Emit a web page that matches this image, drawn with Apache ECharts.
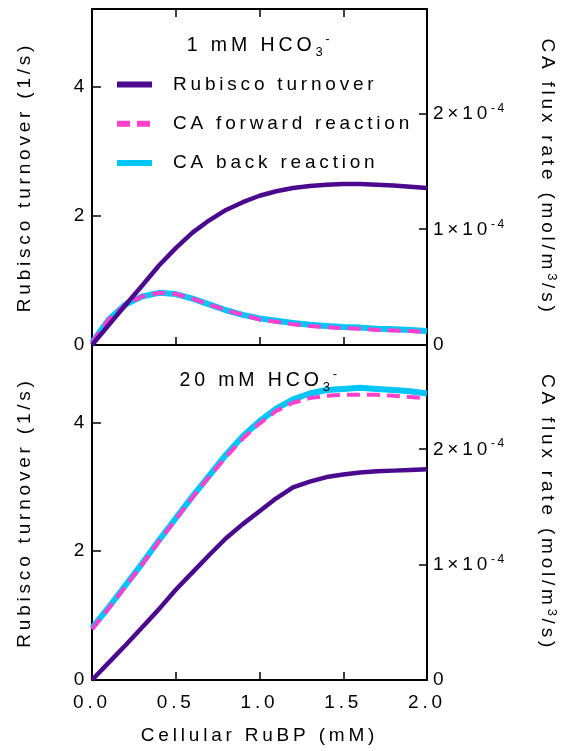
<!DOCTYPE html>
<html>
<head>
<meta charset="utf-8">
<script src="https://cdn.jsdelivr.net/npm/echarts@6/dist/echarts.min.js"></script>
<style>
  html, body { margin: 0; padding: 0; background: #fff; }
  #chart { width: 570px; height: 751px; }
</style>
</head>
<body>
<div id="chart"></div>
<script>
// Cellular RuBP concentration (mM), shared by both panels
const rubp = [0.0, 0.1, 0.2, 0.3, 0.4, 0.5, 0.6, 0.7, 0.8, 0.9, 1.0,
              1.1, 1.2, 1.3, 1.4, 1.5, 1.6, 1.7, 1.8, 1.9, 2.0];

// 1 mM HCO3- : Rubisco turnover (1/s)
const rubiscoLow = [0.00, 0.31, 0.62, 0.92, 1.23, 1.50, 1.74, 1.93, 2.09, 2.21, 2.31,
                    2.38, 2.43, 2.46, 2.48, 2.49, 2.49, 2.48, 2.47, 2.45, 2.43];
// 1 mM HCO3- : CA fluxes (10^-4 mol/m^3/s)
const caFwdLow  = [0.02, 0.22, 0.35, 0.42, 0.45, 0.44, 0.40, 0.35, 0.30, 0.26, 0.22,
                   0.20, 0.18, 0.165, 0.155, 0.145, 0.14, 0.13, 0.125, 0.12, 0.11];
const caBackLow = [0.02, 0.22, 0.35, 0.42, 0.45, 0.44, 0.40, 0.35, 0.30, 0.26, 0.23,
                   0.21, 0.19, 0.175, 0.165, 0.155, 0.15, 0.14, 0.135, 0.13, 0.12];

// 20 mM HCO3- : Rubisco turnover (1/s)
const rubiscoHigh = [0.00, 0.27, 0.54, 0.82, 1.10, 1.40, 1.67, 1.94, 2.20, 2.42, 2.62,
                     2.82, 2.99, 3.08, 3.15, 3.19, 3.22, 3.24, 3.25, 3.26, 3.27];
// 20 mM HCO3- : CA fluxes (10^-4 mol/m^3/s)
const caFwdHigh  = [0.44, 0.62, 0.81, 1.00, 1.20, 1.39, 1.58, 1.76, 1.93, 2.09, 2.22,
                    2.33, 2.40, 2.44, 2.46, 2.47, 2.47, 2.47, 2.46, 2.45, 2.44];
const caBackHigh = [0.45, 0.63, 0.82, 1.01, 1.21, 1.40, 1.59, 1.77, 1.95, 2.11, 2.24,
                    2.35, 2.43, 2.48, 2.51, 2.52, 2.53, 2.52, 2.51, 2.50, 2.48];

// Tick values
const xTicks = [0, 0.5, 1.0, 1.5, 2.0];
const turnoverTicks = [0, 2, 4];
const fluxTicks = [0, 1, 2];          // in units of 10^-4

const seriesNames = ['Rubisco turnover', 'CA forward reaction', 'CA back reaction'];
const panelLabels = ['1 mM HCO', '20 mM HCO'];

// Tracked (letter-spaced) lettering for every label the chart paints
const TRACK_EM = 0.2;
(function () {
  const proto = CanvasRenderingContext2D.prototype;
  ['fillText', 'strokeText', 'measureText'].forEach(function (fn) {
    const base = proto[fn];
    proto[fn] = function () {
      const m = /(\d+(?:\.\d+)?)px/.exec(this.font || '');
      const size = m ? parseFloat(m[1]) : 12;
      try { this.letterSpacing = (size * TRACK_EM).toFixed(2) + 'px'; } catch (e) {}
      return base.apply(this, arguments);
    };
  });
})();

const FONT = "'Liberation Sans', Arial, sans-serif";
const INK = '#000';
const PURPLE = '#4b0a8e';
const PINK = '#ff40cc';
const CYAN = '#00c6f8';

const pairs = arr => rubp.map((x, i) => [x, arr[i]]);

const axisLine = { show: true, onZero: false, lineStyle: { color: INK, width: 2 } };
const tick = len => ({ show: true, inside: true, length: len, lineStyle: { color: INK, width: 1.5 } });

function xAxisFor(grid, position, withLabels) {
  const ax = {
    type: 'value', gridIndex: grid, position: position,
    min: xTicks[0], max: xTicks[xTicks.length - 1], interval: xTicks[1] - xTicks[0],
    axisLine: axisLine, axisTick: tick(8), splitLine: { show: false },
    axisLabel: { show: false }
  };
  if (withLabels) {
    ax.axisLabel = {
      show: true, margin: 11, fontSize: 19, color: INK, fontFamily: FONT,
      formatter: v => v.toFixed(1)
    };
    ax.name = 'Cellular RuBP (mM)';
    ax.nameLocation = 'middle';
    ax.nameGap = 44;
    ax.nameTextStyle = { fontSize: 19, color: INK, fontFamily: FONT };
  }
  return ax;
}

function turnoverAxis(grid) {
  return {
    type: 'value', gridIndex: grid, position: 'left',
    min: 0, max: 5.2, interval: turnoverTicks[1] - turnoverTicks[0],
    axisLine: axisLine, axisTick: tick(9), splitLine: { show: false },
    axisLabel: { margin: 4, fontSize: 19, color: INK, fontFamily: FONT, showMaxLabel: false },
    name: 'Rubisco turnover (1/s)', nameLocation: 'middle', nameGap: 56, nameRotate: 90,
    nameTextStyle: { fontSize: 19, color: INK, fontFamily: FONT }
  };
}

function fluxAxis(grid) {
  return {
    type: 'value', gridIndex: grid, position: 'right',
    min: 0, max: 2.9, interval: fluxTicks[1] - fluxTicks[0],
    axisLine: axisLine, axisTick: tick(8), splitLine: { show: false },
    axisLabel: {
      margin: 6, fontSize: 19, color: INK, fontFamily: FONT, showMaxLabel: false,
      formatter: v => v === 0 ? '0' : '{m|' + Math.round(v) + '×10}{e|-4}',
      rich: {
        m: { fontSize: 19, color: INK, fontFamily: FONT, lineHeight: 24, verticalAlign: 'bottom' },
        e: { fontSize: 12, color: INK, fontFamily: FONT, lineHeight: 12, verticalAlign: 'top' }
      }
    },
    name: 'CA flux rate (mol/m{s|3}/s)', nameLocation: 'middle', nameGap: 120, nameRotate: -90,
    nameTextStyle: {
      fontSize: 19, color: INK, fontFamily: FONT, lineHeight: 24, verticalAlign: 'middle',
      rich: { s: { fontSize: 13, color: INK, fontFamily: FONT, lineHeight: 13, verticalAlign: 'top' } }
    }
  };
}

function panelSeries(grid, rubisco, caFwd, caBack) {
  const xi = grid === 0 ? 0 : 2;
  const yl = grid * 2, yr = grid * 2 + 1;
  return [
    { name: seriesNames[2], type: 'line', xAxisIndex: xi, yAxisIndex: yr, data: pairs(caBack),
      symbol: 'none', lineStyle: { color: CYAN, width: 6 }, itemStyle: { color: CYAN }, z: 2 },
    { name: seriesNames[1], type: 'line', xAxisIndex: xi, yAxisIndex: yr, data: pairs(caFwd),
      symbol: 'none', lineStyle: { color: PINK, width: 4, type: [13, 7] }, itemStyle: { color: PINK }, z: 3 },
    { name: seriesNames[0], type: 'line', xAxisIndex: xi, yAxisIndex: yl, data: pairs(rubisco),
      symbol: 'none', lineStyle: { color: PURPLE, width: 4.5 }, itemStyle: { color: PURPLE }, z: 4 }
  ];
}

function panelTitle(text, y) {
  return {
    type: 'text', x: 259.5, y: y, z: 10,
    style: {
      text: '{t|' + text + '}{b|3}{p|-}',
      align: 'center', verticalAlign: 'middle',
      rich: {
        t: { fontSize: 19.5, fill: INK, fontFamily: FONT, lineHeight: 28, verticalAlign: 'middle' },
        b: { fontSize: 13, fill: INK, fontFamily: FONT, lineHeight: 13, verticalAlign: 'bottom' },
        p: { fontSize: 13, fill: INK, fontFamily: FONT, lineHeight: 13, verticalAlign: 'top' }
      }
    }
  };
}

const chart = echarts.init(document.getElementById('chart'), null, { renderer: 'canvas' });
chart.setOption({
  backgroundColor: '#fff',
  animation: false,
  textStyle: { fontFamily: FONT },
  grid: [
    { left: 92, top: 9, width: 335, height: 336, containLabel: false },
    { left: 92, top: 345, width: 335, height: 335, containLabel: false }
  ],
  xAxis: [
    xAxisFor(0, 'bottom', false),
    xAxisFor(0, 'top', false),
    xAxisFor(1, 'bottom', true)
  ],
  yAxis: [turnoverAxis(0), fluxAxis(0), turnoverAxis(1), fluxAxis(1)],
  legend: {
    data: seriesNames, orient: 'vertical', left: 109, top: 68,
    itemWidth: 35, itemHeight: 14, itemGap: 16.5, selectedMode: false,
    lineStyle: { width: 6 },
    itemStyle: { opacity: 0 },
    textStyle: { fontSize: 19, color: INK, fontFamily: FONT, padding: [0, 0, 0, 16] }
  },
  graphic: [panelTitle(panelLabels[0], 46), panelTitle(panelLabels[1], 381)],
  series: [].concat(
    panelSeries(0, rubiscoLow, caFwdLow, caBackLow),
    panelSeries(1, rubiscoHigh, caFwdHigh, caBackHigh)
  )
});
</script>
</body>
</html>
